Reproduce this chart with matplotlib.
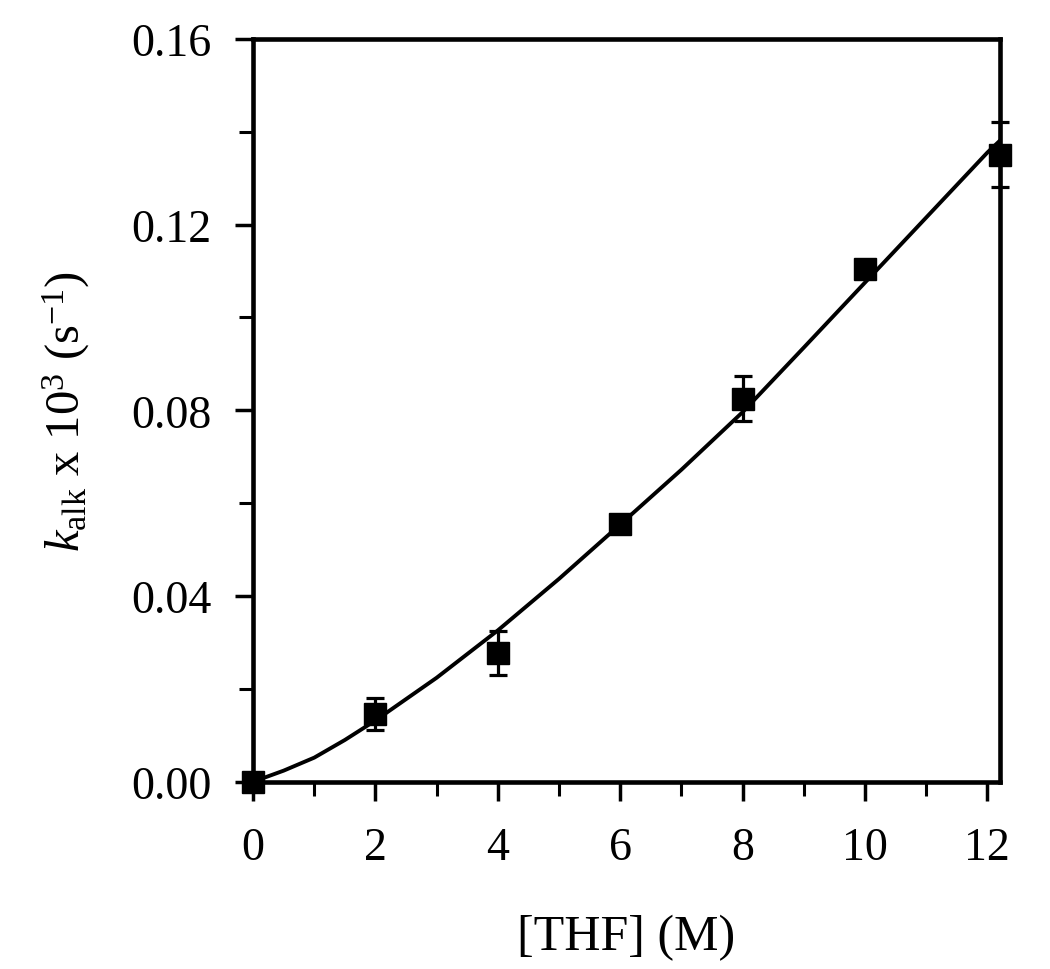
import matplotlib
matplotlib.use("Agg")
import matplotlib.pyplot as plt
from matplotlib.ticker import MultipleLocator

plt.rcParams['font.family'] = ['Liberation Serif', 'DejaVu Serif']
plt.rcParams['mathtext.fontset'] = 'custom'
plt.rcParams['mathtext.rm'] = 'Liberation Serif'
plt.rcParams['mathtext.it'] = 'Liberation Serif:italic'

# data points
thf = [0, 2, 4, 6, 8, 10, 12.2]
k_alk = [0.0, 0.0146, 0.0278, 0.0555, 0.0825, 0.1105, 0.135]
k_err = [0.0, 0.0035, 0.0047, 0.0010, 0.0049, 0.0010, 0.0070]

# fitted curve
fit_x = [0, 0.5, 1, 1.5, 2, 3, 4, 5, 6, 7, 8, 9, 10, 11, 12, 12.2]
fit_y = [0.0, 0.0024, 0.0052, 0.0090, 0.0132, 0.0224, 0.0326, 0.0437, 0.0554, 0.0672, 0.0796, 0.0935, 0.1075, 0.1215, 0.1355, 0.1380]

xticks = [0, 2, 4, 6, 8, 10, 12]
yticks = [0.00, 0.04, 0.08, 0.12, 0.16]
ytick_labels = ['0.00', '0.04', '0.08', '0.12', '0.16']

fig = plt.figure(figsize=(10.5, 9.7), dpi=100)
ax = fig.add_axes([0.241, 0.193, 0.711, 0.766])

ax.plot(fit_x, fit_y, color='black', lw=2.8, zorder=2)
ax.errorbar(thf, k_alk, yerr=k_err, fmt='s', color='black', ms=16.5,
            ecolor='black', elinewidth=2.3, capsize=6.5, capthick=2.3, zorder=3,
            clip_on=False)

ax.set_xlim(0, 12.2)
ax.set_ylim(0, 0.16)
ax.set_xticks(xticks)
ax.set_yticks(yticks)
ax.set_yticklabels(ytick_labels)
ax.xaxis.set_minor_locator(MultipleLocator(1))
ax.yaxis.set_minor_locator(MultipleLocator(0.02))

for s in ax.spines.values():
    s.set_linewidth(3.3)
ax.tick_params(which='major', direction='out', length=14, width=2.5,
               labelsize=33, top=False, right=False)
ax.tick_params(which='minor', direction='out', length=10, width=2.2,
               top=False, right=False)
ax.tick_params(axis='x', which='major', pad=18)
ax.tick_params(axis='y', which='major', pad=17, length=13)

ax.set_xlabel('[THF] (M)', fontsize=36, labelpad=32)
ax.set_ylabel(r'$\mathit{k}_{\mathrm{alk}}$ x 10$^{3}$ (s$^{-1}$)', fontsize=35, labelpad=28)

fig.savefig('out.png', dpi=100, facecolor='white')
